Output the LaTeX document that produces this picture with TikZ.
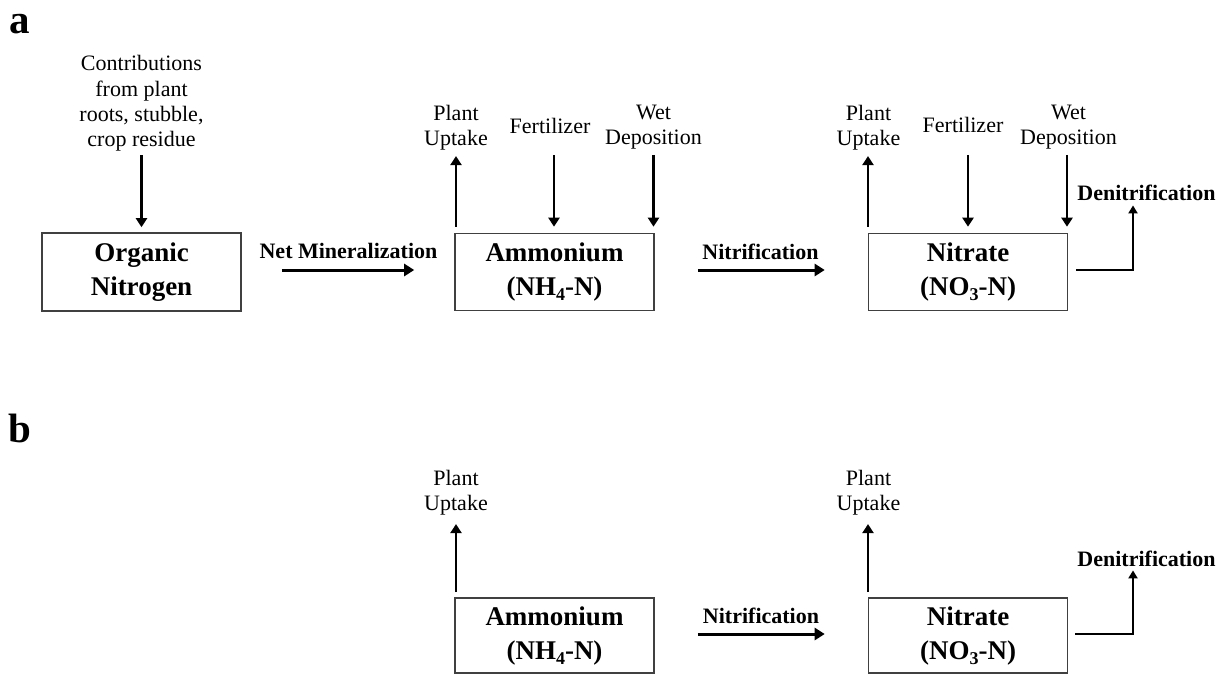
\documentclass[tikz,border=0pt]{standalone}
\usepackage{fontspec}
\setmainfont{Liberation Serif}
\usetikzlibrary{arrows.meta}
\newcommand{\lowsub}[1]{\raisebox{-5.5pt}{\fontsize{18}{18}\selectfont #1}}
\begin{document}
\begin{tikzpicture}[x=1pt,y=-1pt,
  box/.style={draw=black!75, line width=1.6pt, minimum width=199pt, minimum height=77pt,
    inner sep=0pt, align=center, font=\fontsize{27}{34}\selectfont\bfseries},
  lbl/.style={inner sep=0pt, align=center, font=\fontsize{22}{25}\selectfont},
  blbl/.style={inner sep=0pt, font=\fontsize{22}{26}\selectfont\bfseries},
  thinarr/.style={line width=2.2pt, -{Triangle[length=9pt,width=11pt]}},
  thickarr/.style={line width=3pt, -{Triangle[length=10pt,width=12pt]}},
  elbow/.style={line width=2.8pt, -{Triangle[length=8pt,width=9pt]}},
  panel/.style={inner sep=0pt, font=\fontsize{41}{41}\selectfont\bfseries}]
\useasboundingbox (0,0) rectangle (1225,675);

% panel labels
\node[panel, anchor=base west] (pa) at (9,33) {a};
\node[panel, anchor=base west] (pb) at (8,442) {b};

% boxes
\node[box, minimum height=78pt] (orgA) at (141.5,272) {Organic\\Nitrogen};
\node[box] (amA) at (554.5,272) {Ammonium\\(NH\lowsub{4}-N)};
\node[box] (niA) at (968,272) {Nitrate\\(NO\lowsub{3}-N)};
\node[box, minimum height=75pt] (amB) at (554.5,635.5) {Ammonium\\(NH\lowsub{4}-N)};
\node[box, minimum height=75pt] (niB) at (968,635.5) {Nitrate\\(NO\lowsub{3}-N)};

% plain labels
\node[lbl, font=\fontsize{22}{25.3}\selectfont] (contrib) at (141.5,103.5) {Contributions\\from plant\\roots, stubble,\\crop residue};
\node[lbl] (puA1) at (456,127.4) {Plant\\Uptake};
\node[lbl, anchor=base] (feA1) at (550,133) {Fertilizer};
\node[lbl] (wdA1) at (653.5,127.6) {Wet\\Deposition};
\node[lbl] (puA2) at (868.5,127.4) {Plant\\Uptake};
\node[lbl, anchor=base] (feA2) at (963,132.5) {Fertilizer};
\node[lbl] (wdA2) at (1068.5,127.6) {Wet\\Deposition};
\node[lbl] (puB1) at (456,492.4) {Plant\\Uptake};
\node[lbl] (puB2) at (868.5,492.4) {Plant\\Uptake};

% bold process labels
\node[blbl, anchor=base] (nm) at (348.5,258) {Net Mineralization};
\node[blbl, anchor=base] (nfA) at (760.5,259) {Nitrification};
\node[blbl, anchor=base] (dnA) at (1146.5,200) {Denitrification};
\node[blbl, anchor=base] (nfB) at (761,623) {Nitrification};
\node[blbl, anchor=base] (dnB) at (1146.5,566) {Denitrification};

% panel a vertical arrows
\draw[thinarr, shorten <=3.5pt, shorten >=5pt] (contrib.south) -- (orgA.north);
\draw[thinarr, shorten <=6pt, shorten >=6pt] (puA1.south |- amA.north) -- (puA1.south);
\draw[thinarr, shorten <=22pt, shorten >=6pt] ([xshift=4pt]feA1.south) -- ([xshift=4pt]feA1.south |- amA.north);
\draw[thinarr, shorten <=5pt, shorten >=6pt] (wdA1.south) -- (wdA1.south |- amA.north);
\draw[thinarr, shorten <=6pt, shorten >=6pt] ([xshift=-0.5pt]puA2.south |- niA.north) -- ([xshift=-0.5pt]puA2.south);
\draw[thinarr, shorten <=22pt, shorten >=6pt] ([xshift=5pt]feA2.south) -- ([xshift=5pt]feA2.south |- niA.north);
\draw[thinarr, shorten <=5pt, shorten >=6pt] ([xshift=-1.5pt]wdA2.south) -- ([xshift=-1.5pt]wdA2.south |- niA.north);

% panel a horizontal arrows
\draw[thickarr, shorten <=40pt, shorten >=40pt] ([yshift=2pt]orgA.east) -- ([yshift=2pt]amA.west);
\draw[thickarr, shorten <=43pt, shorten >=43pt] ([yshift=2pt]amA.east) -- ([yshift=2pt]niA.west);
\draw[elbow, shorten >=5pt] ([xshift=8pt,yshift=2pt]niA.east) -| ([xshift=-13.5pt]dnA.south);

% panel b arrows
\draw[thinarr, shorten <=5pt, shorten >=9pt] (puB1.south |- amB.north) -- (puB1.south);
\draw[thinarr, shorten <=5pt, shorten >=9pt] ([xshift=-0.5pt]puB2.south |- niB.north) -- ([xshift=-0.5pt]puB2.south);
\draw[thickarr, shorten <=43pt, shorten >=43pt] ([yshift=1.5pt]amB.east) -- ([yshift=1.5pt]niB.west);
\draw[elbow, shorten >=4pt] ([xshift=7pt,yshift=1.5pt]niB.east) -| ([xshift=-13.5pt]dnB.south);
\end{tikzpicture}
\end{document}
